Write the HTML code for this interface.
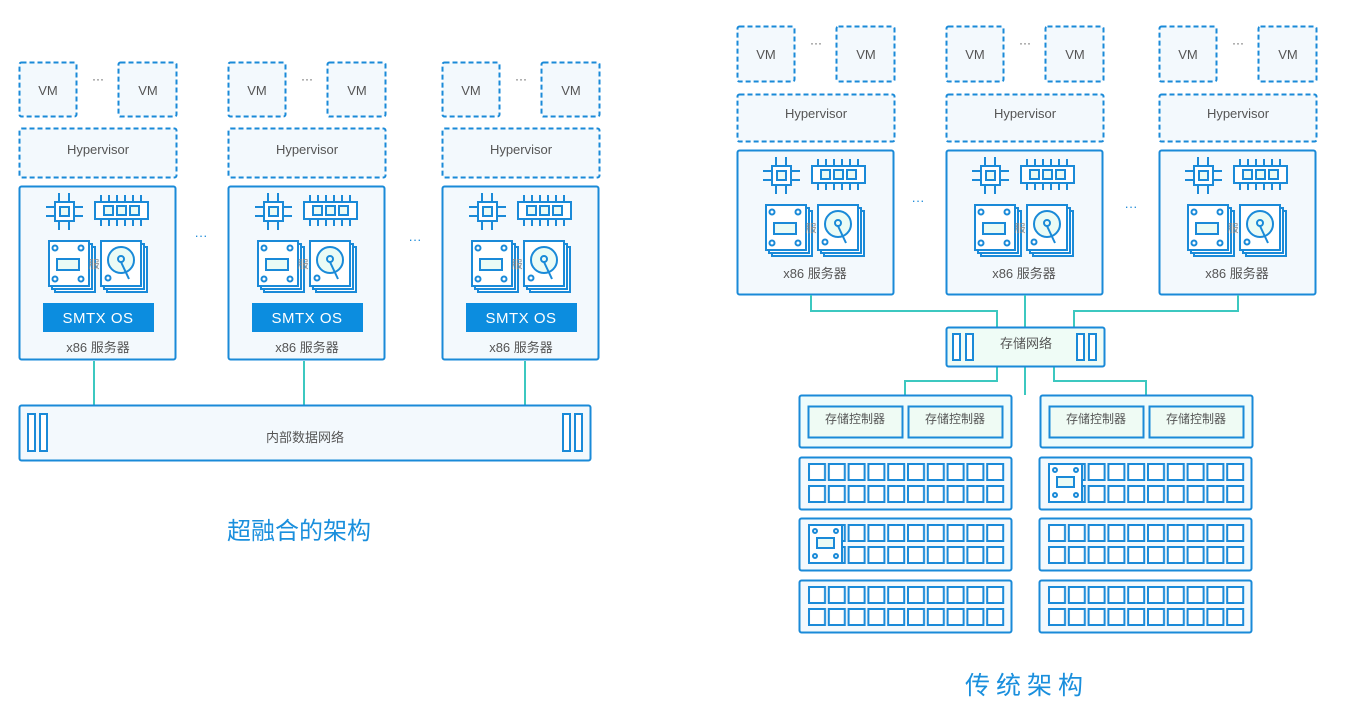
<!DOCTYPE html>
<html><head><meta charset="utf-8"><style>
html,body{margin:0;padding:0;background:#fff;width:1356px;height:728px;overflow:hidden}
svg text{font-family:"Liberation Sans","Noto Sans CJK SC",sans-serif;fill:#555}
</style></head><body>
<svg width="1356" height="728" viewBox="0 0 1356 728" xmlns="http://www.w3.org/2000/svg">
<defs>
<pattern id="gA1" patternUnits="userSpaceOnUse" x="808" y="463" width="19.8" height="22"><rect x="1" y="1" width="16" height="16" fill="#fff" stroke="#1a8ad8" stroke-width="2"/></pattern>
<pattern id="gA2" patternUnits="userSpaceOnUse" x="808" y="524" width="19.8" height="22"><rect x="1" y="1" width="16" height="16" fill="#fff" stroke="#1a8ad8" stroke-width="2"/></pattern>
<pattern id="gA3" patternUnits="userSpaceOnUse" x="808" y="586" width="19.8" height="22"><rect x="1" y="1" width="16" height="16" fill="#fff" stroke="#1a8ad8" stroke-width="2"/></pattern>
<pattern id="gB1" patternUnits="userSpaceOnUse" x="1048" y="463" width="19.8" height="22"><rect x="1" y="1" width="16" height="16" fill="#fff" stroke="#1a8ad8" stroke-width="2"/></pattern>
<pattern id="gB2" patternUnits="userSpaceOnUse" x="1048" y="524" width="19.8" height="22"><rect x="1" y="1" width="16" height="16" fill="#fff" stroke="#1a8ad8" stroke-width="2"/></pattern>
<pattern id="gB3" patternUnits="userSpaceOnUse" x="1048" y="586" width="19.8" height="22"><rect x="1" y="1" width="16" height="16" fill="#fff" stroke="#1a8ad8" stroke-width="2"/></pattern>
<g id="icons" fill="none" stroke="#1a8ad8" stroke-width="2">
<rect x="36" y="16" width="19" height="19" fill="#fff"/>
<rect x="41" y="21" width="9" height="9" fill="#eafbf5"/>
<path d="M27 21h9M27 30h9M55 21h9M55 30h9M40 7v9M50 7v9M40 35v9M50 35v9"/>
<rect x="76" y="16" width="53" height="17" fill="#fff"/>
<path d="M82 9v7M90 9v7M98 9v7M106 9v7M114 9v7M122 9v7M82 33v7M90 33v7M98 33v7M106 33v7M114 33v7M122 33v7"/>
<rect x="85" y="20" width="9" height="9" fill="#eafbf5"/><rect x="98" y="20" width="9" height="9" fill="#eafbf5"/><rect x="111" y="20" width="9" height="9" fill="#eafbf5"/>
<rect x="36" y="61" width="40" height="45" fill="#fff"/>
<rect x="33" y="58" width="40" height="45" fill="#fff"/>
<rect x="30" y="55" width="40" height="45" fill="#fff"/>
<rect x="38" y="73" width="22" height="11" fill="#eafbf5"/>
<circle cx="36" cy="62" r="2.5"/><circle cx="62" cy="62" r="2.5"/><circle cx="36" cy="93" r="2.5"/><circle cx="62" cy="93" r="2.5"/>
<rect x="88" y="61" width="40" height="45" fill="#fff"/>
<rect x="85" y="58" width="40" height="45" fill="#fff"/>
<rect x="82" y="55" width="40" height="45" fill="#fff"/>
<circle cx="102" cy="74" r="13" fill="#eafbf5"/><circle cx="102" cy="73" r="3"/>
<path d="M102 76l8 17"/><circle cx="89" cy="92" r="2.5"/>
</g>
</defs>

<g id="L1">
<rect x="19.5" y="62.5" width="57" height="54" rx="2" fill="#f3f9fd" stroke="#1a8ad8" stroke-width="2" stroke-dasharray="5,3"/>
<rect x="118.5" y="62.5" width="58" height="54" rx="2" fill="#f3f9fd" stroke="#1a8ad8" stroke-width="2" stroke-dasharray="5,3"/>
<text x="48" y="95" font-size="13" text-anchor="middle">VM</text>
<text x="148" y="95" font-size="13" text-anchor="middle">VM</text>
<text x="98" y="83" font-size="12" text-anchor="middle">···</text>
<rect x="19.5" y="128.5" width="157" height="49" rx="2" fill="#f3f9fd" stroke="#1a8ad8" stroke-width="2" stroke-dasharray="5,3"/>
<text x="98" y="154" font-size="13" text-anchor="middle">Hypervisor</text>
<rect x="19.5" y="186.5" width="156" height="173" rx="2" fill="#f3f9fd" stroke="#1a8ad8" stroke-width="2"/>
<use href="#icons" x="19" y="186"/>
<text x="94" y="268" font-size="11" text-anchor="middle" style="fill:#888">服</text>
<rect x="43" y="303" width="111" height="29" fill="#0c8ddf"/>
<text x="98" y="323" font-size="15" text-anchor="middle" style="fill:#fff" letter-spacing="0.5">SMTX  OS</text>
<text x="98" y="352" font-size="13" text-anchor="middle">x86 服务器</text>
</g>
<use href="#L1" x="209" y="0"/>
<use href="#L1" x="423" y="0"/>
<text x="201" y="240" font-size="13" text-anchor="middle" style="fill:#1a8ad8">···</text>
<text x="415" y="244" font-size="13" text-anchor="middle" style="fill:#1a8ad8">···</text>
<path d="M94 361v44M304 361v44M525 361v44" stroke="#3cc8c0" stroke-width="2" fill="none"/>
<rect x="19.5" y="405.5" width="571" height="55" rx="2" fill="#f3f9fd" stroke="#1a8ad8" stroke-width="2"/>
<g fill="#fff" stroke="#1a8ad8" stroke-width="2">
<rect x="28" y="414" width="7" height="37"/><rect x="40" y="414" width="7" height="37"/>
<rect x="563" y="414" width="7" height="37"/><rect x="575" y="414" width="7" height="37"/>
</g>
<text x="305" y="442" font-size="13" text-anchor="middle">内部数据网络</text>
<text x="299" y="539" font-size="24" text-anchor="middle" style="fill:#1a8fdd">超融合的架构</text>

<g id="R1">
<rect x="737.5" y="26.5" width="57" height="55" rx="2" fill="#f3f9fd" stroke="#1a8ad8" stroke-width="2" stroke-dasharray="5,3"/>
<rect x="836.5" y="26.5" width="58" height="55" rx="2" fill="#f3f9fd" stroke="#1a8ad8" stroke-width="2" stroke-dasharray="5,3"/>
<text x="766" y="59" font-size="13" text-anchor="middle">VM</text>
<text x="866" y="59" font-size="13" text-anchor="middle">VM</text>
<text x="816" y="47" font-size="12" text-anchor="middle">···</text>
<rect x="737.5" y="94.5" width="157" height="47" rx="2" fill="#f3f9fd" stroke="#1a8ad8" stroke-width="2" stroke-dasharray="5,3"/>
<text x="816" y="118" font-size="13" text-anchor="middle">Hypervisor</text>
<rect x="737.5" y="150.5" width="156" height="144" rx="2" fill="#f3f9fd" stroke="#1a8ad8" stroke-width="2"/>
<use href="#icons" x="736" y="150"/>
<text x="811" y="232" font-size="11" text-anchor="middle" style="fill:#888">服</text>
<text x="815" y="278" font-size="13" text-anchor="middle">x86 服务器</text>
</g>
<use href="#R1" x="209" y="0"/>
<use href="#R1" x="422" y="0"/>
<text x="918" y="205" font-size="13" text-anchor="middle" style="fill:#1a8ad8">···</text>
<text x="1131" y="211" font-size="13" text-anchor="middle" style="fill:#1a8ad8">···</text>

<g stroke="#3cc8c0" stroke-width="2" fill="none">
<path d="M811 295v16h186v16M1025 295v32M1238 295v16h-164v16"/>
<path d="M997 367v14h-92v14M1025 367v28M1054 367v14h92v14"/>
</g>
<rect x="946.5" y="327.5" width="158" height="39" rx="2" fill="#effcf6" stroke="#1a8ad8" stroke-width="2"/>
<g fill="#fff" stroke="#1a8ad8" stroke-width="2">
<rect x="953" y="334" width="7" height="26"/><rect x="966" y="334" width="7" height="26"/>
<rect x="1077" y="334" width="7" height="26"/><rect x="1089" y="334" width="7" height="26"/>
</g>
<text x="1026" y="348" font-size="13" text-anchor="middle">存储网络</text>

<g id="ctl">
<rect x="799.5" y="395.5" width="212" height="52" rx="2" fill="#eefcfc" stroke="#1a8ad8" stroke-width="2"/>
<rect x="808.5" y="406.5" width="94" height="31" fill="#effbf4" stroke="#1a8ad8" stroke-width="2"/>
<rect x="908.5" y="406.5" width="94" height="31" fill="#effbf4" stroke="#1a8ad8" stroke-width="2"/>
<text x="855" y="423" font-size="12" text-anchor="middle">存储控制器</text>
<text x="955" y="423" font-size="12" text-anchor="middle">存储控制器</text>
</g>
<use href="#ctl" x="241" y="0"/>

<g stroke="#1a8ad8" stroke-width="2" fill="#f3f9fd">
<rect x="799.5" y="457.5" width="212" height="52" rx="2"/>
<rect x="799.5" y="518.5" width="212" height="52" rx="2"/>
<rect x="799.5" y="580.5" width="212" height="52" rx="2"/>
<rect x="1039.5" y="457.5" width="212" height="52" rx="2"/>
<rect x="1039.5" y="518.5" width="212" height="52" rx="2"/>
<rect x="1039.5" y="580.5" width="212" height="52" rx="2"/>
</g>
<rect x="808" y="463" width="198" height="40" fill="url(#gA1)"/>
<rect x="808" y="524" width="198" height="40" fill="url(#gA2)"/>
<rect x="808" y="586" width="198" height="40" fill="url(#gA3)"/>
<rect x="1048" y="463" width="198" height="40" fill="url(#gB1)"/>
<rect x="1048" y="524" width="198" height="40" fill="url(#gB2)"/>
<rect x="1048" y="586" width="198" height="40" fill="url(#gB3)"/>
<g fill="#fff" stroke="#1a8ad8" stroke-width="2">
<rect x="809" y="525" width="33" height="38"/>
<rect x="1049" y="464" width="33" height="38"/>
</g>
<g fill="#eafbf5" stroke="#1a8ad8" stroke-width="2">
<rect x="817" y="538" width="17" height="10"/><rect x="1057" y="477" width="17" height="10"/>
</g>
<g fill="none" stroke="#1a8ad8" stroke-width="2">
<circle cx="815" cy="531" r="2"/><circle cx="836" cy="531" r="2"/><circle cx="815" cy="556" r="2"/><circle cx="836" cy="556" r="2"/>
<circle cx="1055" cy="470" r="2"/><circle cx="1076" cy="470" r="2"/><circle cx="1055" cy="495" r="2"/><circle cx="1076" cy="495" r="2"/>
</g>
<text x="1027" y="694" font-size="25" text-anchor="middle" letter-spacing="6" style="fill:#1a8fdd">传统架构</text>
</svg>
</body></html>
